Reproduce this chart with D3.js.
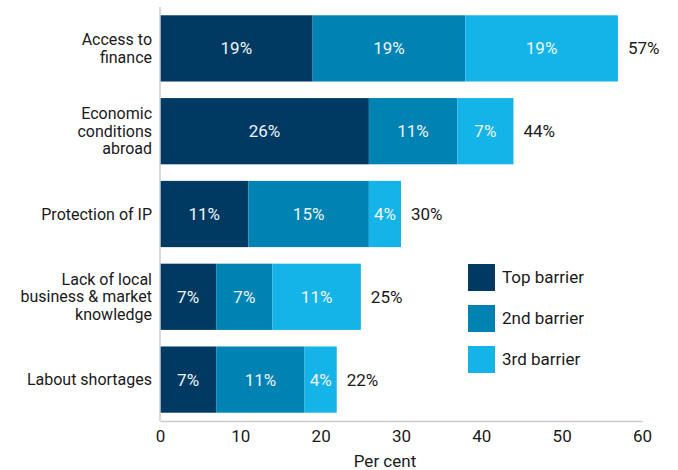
<!DOCTYPE html>
<html>
<head>
<meta charset="utf-8">
<script src="https://cdn.jsdelivr.net/npm/d3@7"></script>
<style>
  body { margin: 0; background: #fff; }
  text { font-family: Roboto, "Noto Sans", sans-serif; }
</style>
</head>
<body>
<div id="chart"></div>
<script>
var width = 678,
    height = 470;

// data
var categories = [
  ['Access to', 'finance'],
  ['Economic', 'conditions', 'abroad'],
  ['Protection of IP'],
  ['Lack of local', 'business & market', 'knowledge'],
  ['Labout shortages']
];
var seriesNames = ['Top barrier', '2nd barrier', '3rd barrier'];
var topBarrier = [19, 26, 11, 7, 7];
var secondBarrier = [19, 11, 15, 7, 11];
var thirdBarrier = [19, 7, 4, 11, 4];
var totals = [57, 44, 30, 25, 22];
var xTicks = [0, 10, 20, 30, 40, 50, 60];

var colours = ['#003a63', '#0083b3', '#14b4e8'];
var fontSize = '17px';

var svg = d3.select('#chart').append('svg')
    .attr('width', width)
    .attr('height', height);

var x = d3.scaleLinear().domain([0, 60]).range([160, 642]);
var y = d3.scaleBand()
    .domain(d3.range(categories.length))
    .range([7, 421])
    .paddingInner(0.2)
    .paddingOuter(0.1);

// stack the three series
var rows = categories.map(function(c, i) {
  return {i: i, s0: topBarrier[i], s1: secondBarrier[i], s2: thirdBarrier[i]};
});
var stack = d3.stack().keys(['s0', 's1', 's2']);
var layers = stack(rows);

var g = svg.append('g');

layers.forEach(function(layer, k) {
  g.selectAll('rect.s' + k)
    .data(layer)
    .enter().append('rect')
    .attr('x', function(d) { return x(d[0]); })
    .attr('width', function(d) { return x(d[1]) - x(d[0]); })
    .attr('y', function(d) { return y(d.data.i); })
    .attr('height', y.bandwidth())
    .attr('fill', colours[k]);

  g.selectAll('text.s' + k)
    .data(layer)
    .enter().append('text')
    .attr('x', function(d) { return (x(d[0]) + x(d[1])) / 2; })
    .attr('y', function(d) { return y(d.data.i) + y.bandwidth() / 2; })
    .attr('dy', '0.35em')
    .attr('text-anchor', 'middle')
    .attr('fill', '#eef4fa')
    .style('font-size', fontSize)
    .text(function(d) { return (d[1] - d[0]) + '%'; });
});

// totals
g.selectAll('text.total')
  .data(totals)
  .enter().append('text')
  .attr('x', function(d) { return x(d) + 10; })
  .attr('y', function(d, i) { return y(i) + y.bandwidth() / 2; })
  .attr('dy', '0.35em')
  .attr('fill', '#1a1a1a')
  .style('font-size', fontSize)
  .text(function(d) { return d + '%'; });

// category labels
categories.forEach(function(lines, i) {
  var cy = y(i) + y.bandwidth() / 2;
  var lh = 17.5;
  var t = svg.append('text')
    .attr('text-anchor', 'end')
    .attr('fill', '#1a1a1a')
    .style('font-size', '16px');
  lines.forEach(function(l, j) {
    t.append('tspan')
      .attr('x', 152)
      .attr('y', cy + (j - (lines.length - 1) / 2) * lh)
      .attr('dy', '0.35em')
      .text(l);
  });
});

// axes
svg.append('line')
  .attr('x1', x(0)).attr('x2', x(0))
  .attr('y1', 7).attr('y2', 421)
  .attr('stroke', '#cccccc').attr('stroke-width', 1.5);

var xAxis = svg.append('g')
  .attr('transform', 'translate(0,421)')
  .call(d3.axisBottom(x).tickValues(xTicks).tickSize(0).tickPadding(9));
xAxis.select('.domain').attr('stroke', '#cccccc').attr('stroke-width', 1.5);
xAxis.selectAll('text')
  .attr('fill', '#1a1a1a')
  .style('font-size', fontSize)
  .style('font-family', 'Roboto, "Noto Sans", sans-serif');

svg.append('text')
  .attr('x', 385)
  .attr('y', 467)
  .attr('text-anchor', 'middle')
  .attr('fill', '#1a1a1a')
  .style('font-size', fontSize)
  .text('Per cent');

// legend
var legend = svg.append('g').attr('transform', 'translate(468,264)');
seriesNames.forEach(function(name, k) {
  legend.append('rect')
    .attr('x', 0).attr('y', k * 41)
    .attr('width', 27).attr('height', 27)
    .attr('fill', colours[k]);
  legend.append('text')
    .attr('x', 34).attr('y', k * 41 + 13.5)
    .attr('dy', '0.35em')
    .attr('fill', '#1a1a1a')
    .style('font-size', fontSize)
    .text(name);
});
</script>
</body>
</html>
